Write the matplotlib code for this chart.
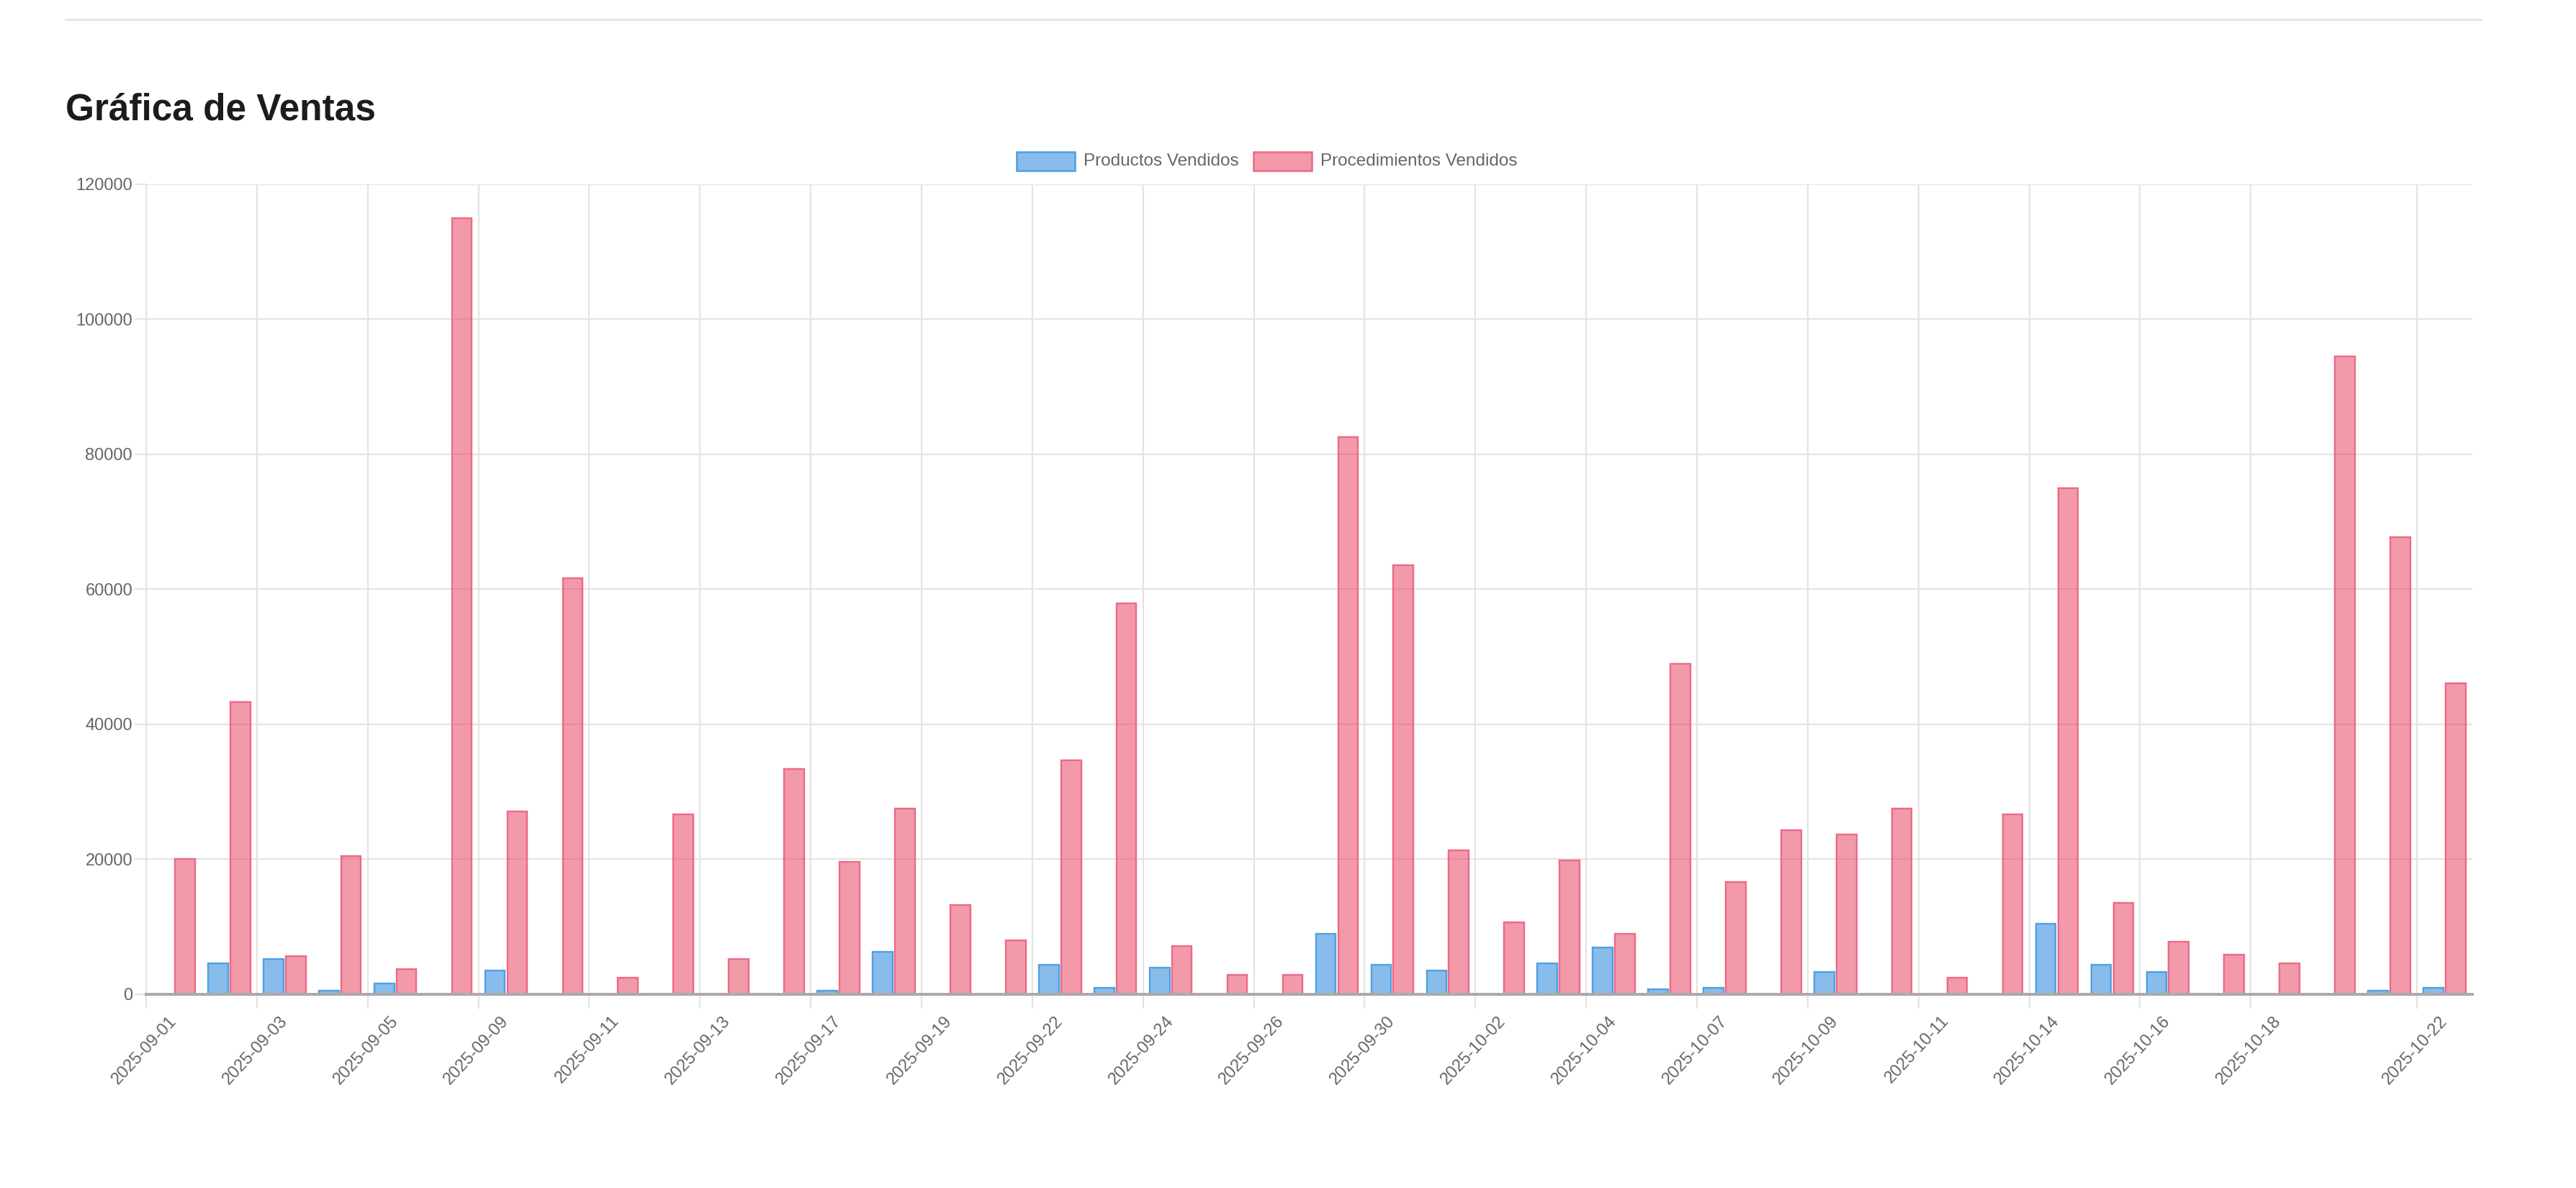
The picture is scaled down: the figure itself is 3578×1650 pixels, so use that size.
import matplotlib
matplotlib.use("Agg")
import matplotlib.pyplot as plt
from matplotlib.patches import Rectangle
from matplotlib.lines import Line2D
import numpy as np

plt.rcParams['font.family'] = ['Liberation Sans', 'DejaVu Sans']

# ---------------- data ----------------
fechas = [
    "2025-09-01", "2025-09-02", "2025-09-03", "2025-09-04", "2025-09-05", "2025-09-08",
    "2025-09-09", "2025-09-10", "2025-09-11", "2025-09-12", "2025-09-13", "2025-09-15",
    "2025-09-17", "2025-09-18", "2025-09-19", "2025-09-20", "2025-09-22", "2025-09-23",
    "2025-09-24", "2025-09-25", "2025-09-26", "2025-09-29", "2025-09-30", "2025-10-01",
    "2025-10-02", "2025-10-03", "2025-10-04", "2025-10-06", "2025-10-07", "2025-10-08",
    "2025-10-09", "2025-10-10", "2025-10-11", "2025-10-13", "2025-10-14", "2025-10-15",
    "2025-10-16", "2025-10-17", "2025-10-18", "2025-10-20", "2025-10-21", "2025-10-22",
]
productos = [
    0, 4500, 5150, 450, 1500, 0,
    3450, 0, 0, 0, 0, 0,
    450, 6200, 0, 0, 4300, 900,
    3850, 0, 0, 8950, 4300, 3450,
    0, 4500, 6850, 650, 900, 0,
    3250, 0, 0, 0, 10450, 4300,
    3250, 0, 0, 0, 450, 900,
]
procedimientos = [
    20000, 43300, 5550, 20450, 3650, 114900,
    27000, 61600, 2400, 26600, 5150, 33300,
    19600, 27500, 13200, 7900, 34600, 57900,
    7050, 2800, 2800, 82500, 63500, 21300,
    10650, 19800, 8950, 48900, 16600, 24300,
    23650, 27500, 2400, 26600, 74900, 13450,
    7700, 5800, 4500, 94500, 67700, 46000,
]
series_names = ["Productos Vendidos", "Procedimientos Vendidos"]
y_ticks = [0, 20000, 40000, 60000, 80000, 100000, 120000]
shown_label_idx = list(range(0, 39, 2)) + [41]

# ---------------- style ----------------
W, H, DPI = 3578, 1650, 100
PX = 72.0 / DPI  # points per pixel

blue_fill = (19/255, 123/255, 217/255, 0.5)
blue_edge = (78/255, 160/255, 228/255, 1.0)
red_fill = (231/255, 53/255, 87/255, 0.5)
red_edge = (236/255, 106/255, 134/255, 1.0)
grid_c = "#e4e4e4"
text_c = "#666666"

fig = plt.figure(figsize=(W / DPI, H / DPI), dpi=DPI)
fig.patch.set_facecolor("white")

left, right, top, bottom = 203, 3434, 255.6, 1380.5
ax = fig.add_axes([left / W, 1 - bottom / H, (right - left) / W, (bottom - top) / H])

x = np.arange(len(fechas))
bw = 0.36
off = 0.2
pv = np.array(productos, dtype=float)
rv = np.array(procedimientos, dtype=float)
mb = pv > 0
mr = rv > 0
ax.bar(x[mb] - off, pv[mb], width=bw, color=blue_fill, edgecolor=blue_edge,
       linewidth=2.4 * PX, zorder=3)
ax.bar(x[mr] + off, rv[mr], width=bw, color=red_fill, edgecolor=red_edge,
       linewidth=2.4 * PX, zorder=3)

ax.set_xlim(-0.5, len(fechas) - 0.5)
ax.set_ylim(0, 120000)
ax.set_axisbelow(True)

# y axis
ax.set_yticks(y_ticks)
ax.set_yticklabels([str(v) for v in y_ticks])
ax.tick_params(axis="y", which="major", length=16 * PX, width=2.2 * PX, color=grid_c,
               labelsize=17, labelcolor=text_c, pad=3 * PX)
ax.yaxis.grid(True, color=grid_c, linewidth=2.2 * PX)

# x axis: grid at left edges of shown categories, labels at centers
ax.set_xticks([i - 0.5 for i in shown_label_idx])
ax.set_xticklabels([])
ax.set_xticks([i for i in shown_label_idx], minor=True)
ax.set_xticklabels([fechas[i] for i in shown_label_idx], minor=True,
                   rotation=47, ha="right", va="center", rotation_mode="anchor")
ax.tick_params(axis="x", which="major", length=20 * PX, width=2.2 * PX, color=grid_c)
ax.tick_params(axis="x", which="minor", length=0, labelsize=17, labelcolor=text_c,
               pad=34 * PX)
ax.xaxis.grid(True, which="major", color=grid_c, linewidth=2.2 * PX)

for s in ["top", "right"]:
    ax.spines[s].set_visible(False)
ax.spines["left"].set_color(grid_c)
ax.spines["left"].set_linewidth(2.2 * PX)
ax.spines["bottom"].set_color("#aaaaaa")
ax.spines["bottom"].set_linewidth(4 * PX)
ax.spines["bottom"].set_zorder(4)

# ---------------- page decorations ----------------
fig.add_artist(Line2D([91 / W, 3446 / W], [1 - 27 / H, 1 - 27 / H], color="#e6e6e6",
                      linewidth=3 * PX))
fig.text(91 / W, 1 - 153 / H, "Gráfica de Ventas", fontsize=37, fontweight="bold",
         color="#1c1c1c", ha="left", va="center")

# legend
legend_y = 224
boxes = [(1412, blue_fill, blue_edge, series_names[0]),
         (1741, red_fill, red_edge, series_names[1])]
for bx, fc, ec, name in boxes:
    fig.add_artist(Rectangle((bx / W, 1 - 237 / H), 81 / W, 26 / H, transform=fig.transFigure,
                             facecolor=fc, edgecolor=ec, linewidth=2.6 * PX))
    fig.text((bx + 93) / W, 1 - legend_y / H, name, fontsize=17.5, color=text_c,
             ha="left", va="center")

fig.savefig("out.png", dpi=DPI, facecolor="white")
